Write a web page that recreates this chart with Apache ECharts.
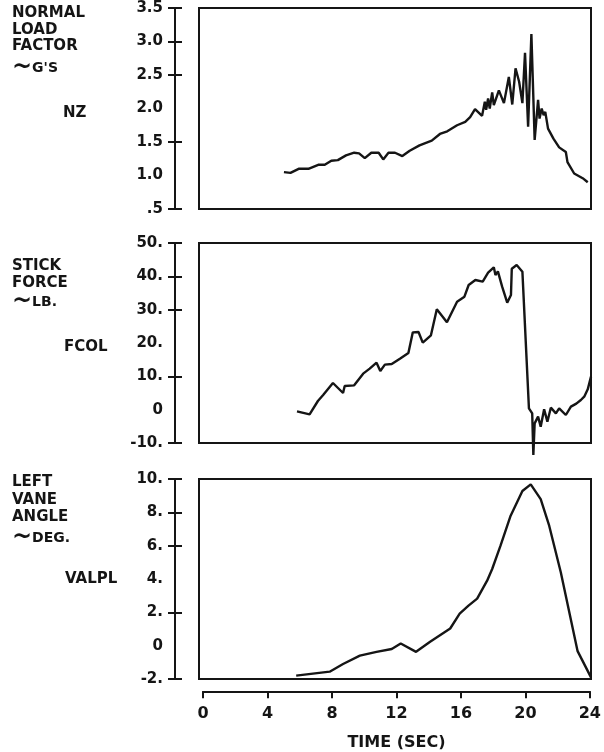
<!DOCTYPE html>
<html>
<head>
<meta charset="utf-8">
<script src="https://cdn.jsdelivr.net/npm/echarts@6/dist/echarts.min.js"></script>
<style>
  html, body { margin: 0; padding: 0; background: #fff; }
  #chart { width: 604px; height: 752px; }
</style>
</head>
<body>
<div id="chart"></div>
<script>
// normal load factor NZ (g's) vs time (sec)
const nzTime = [5.2, 5.6, 6.1, 6.7, 7.3, 7.7, 8.1, 8.5, 9.0, 9.5, 9.8, 10.15, 10.55, 11.0, 11.28, 11.6, 12.0, 12.45, 12.9, 13.5,
  14.25, 14.75, 15.2, 15.8, 16.3, 16.6, 16.9, 17.33, 17.5, 17.58, 17.7, 17.8, 17.95, 18.05, 18.36, 18.67, 18.97, 19.18, 19.38, 19.6,
  19.8, 19.96, 20.15, 20.35, 20.55, 20.76, 20.85, 20.98, 21.1, 21.2, 21.37, 21.7, 22.05, 22.46, 22.56, 22.97, 23.49, 23.8];
const nzValue = [1.05, 1.04, 1.1, 1.1, 1.16, 1.16, 1.22, 1.23, 1.3, 1.34, 1.33, 1.26, 1.34, 1.34, 1.24, 1.34, 1.34, 1.29, 1.37, 1.45,
  1.52, 1.62, 1.66, 1.75, 1.8, 1.87, 1.99, 1.89, 2.1, 1.98, 2.15, 2.0, 2.24, 2.05, 2.27, 2.08, 2.47, 2.06, 2.6, 2.4,
  2.08, 2.83, 1.73, 3.11, 1.53, 2.13, 1.85, 2.0, 1.9, 1.95, 1.7, 1.55, 1.42, 1.35, 1.2, 1.03, 0.96, 0.9];

// stick force FCOL (lb)
const fcolTime = [6.0, 6.77, 7.28, 7.6, 8.2, 8.82, 8.92, 9.5, 10.05, 10.45, 10.87, 11.1, 11.38, 11.8, 12.3, 12.82, 13.09, 13.44, 13.7, 14.2,
  14.56, 15.18, 15.8, 16.25, 16.51, 16.92, 17.37, 17.7, 18.05, 18.15, 18.3, 18.56, 18.87, 19.1, 19.15, 19.45, 19.8, 20.2, 20.4, 20.47,
  20.55, 20.76, 20.92, 21.13, 21.33, 21.54, 21.85, 22.05, 22.46, 22.77, 23.1, 23.38, 23.6, 23.8, 24.0];
const fcolValue = [-0.5, -1.4, 2.6, 4.4, 8.0, 5.0, 7.1, 7.3, 10.8, 12.3, 14.1, 11.6, 13.5, 13.7, 15.3, 17.0, 23.2, 23.3, 20.1, 22.3,
  30.1, 26.2, 32.4, 33.9, 37.4, 38.9, 38.4, 41.1, 42.7, 40.4, 41.5, 36.9, 32.1, 34.4, 42.3, 43.4, 41.4, 0.4, -1.1, -13.6,
  -4.1, -2.1, -5.1, 0.1, -3.6, 0.6, -1.1, 0.4, -1.6, 0.9, 1.8, 2.9, 4.0, 6.1, 9.9];

// left vane angle VALPL (deg)
const vaneTime = [5.95, 8.0, 8.82, 9.85, 10.87, 11.8, 12.35, 13.29, 14.15, 15.38, 15.96, 16.5, 17.03, 17.64, 17.95, 18.46, 19.08, 19.8, 20.31, 20.92, 21.44, 22.15, 23.18, 24.0];
const vaneValue = [-1.8, -1.56, -1.1, -0.6, -0.37, -0.2, 0.13, -0.37, 0.23, 1.03, 1.92, 2.4, 2.82, 3.9, 4.6, 6.0, 7.8, 9.28, 9.68, 8.79, 7.2, 4.41, -0.33, -1.9];

// axis tick values (some marks are missing on the original)
const nzTicks = [0.5, 1.5, 2.5, 3.0, 3.5];
const fcolTicks = [-10, 10, 30, 40, 50];
const vaneTicks = [-2, 2, 6, 8, 10];
const timeTicks = [0, 4, 8, 12, 16, 20, 24];

const FONT = '"DejaVu Sans", sans-serif';
const INK = '#151515';

function pairs(t, v) {
  return t.map((x, i) => [x, v[i]]);
}

// two axes on the same spot: one with outward ticks + labels, one with inward ticks,
// so the ticks cross the axis line like on the original
function yAxes(gi, min, max, step, ticks, fmt) {
  const base = {
    type: 'value', gridIndex: gi, min: min, max: max, interval: step,
    position: 'left', offset: 24, splitLine: { show: false }
  };
  return [
    Object.assign({}, base, {
      axisLine: { show: true, onZero: false, lineStyle: { color: INK, width: 2 } },
      axisTick: { show: true, length: 7, customValues: ticks, lineStyle: { color: INK, width: 2 } },
      axisLabel: { margin: 12, formatter: fmt, color: INK, fontFamily: FONT, fontWeight: 'bold', fontSize: 15 }
    }),
    Object.assign({}, base, {
      axisLine: { show: true, onZero: false, lineStyle: { color: INK, width: 2 } },
      axisTick: { show: true, inside: true, length: 7, customValues: ticks, lineStyle: { color: INK, width: 2 } },
      axisLabel: { show: false }
    })
  ];
}

function label(x, y, text, size) {
  return {
    type: 'text', x: x, y: y,
    style: {
      text: text, fill: INK, fontFamily: FONT, fontWeight: 'bold', fontSize: size || 15,
      verticalAlign: 'middle',
      rich: { t: { fontSize: 24, fontWeight: 'bold', fontFamily: FONT, fill: INK } }
    }
  };
}

const chart = echarts.init(document.getElementById('chart'));

const gridStyle = { show: true, borderColor: INK, borderWidth: 2, backgroundColor: 'transparent' };

chart.setOption({
  animation: false,
  backgroundColor: '#fff',
  grid: [
    Object.assign({ left: 199, width: 392, top: 8, height: 201 }, gridStyle),
    Object.assign({ left: 199, width: 392, top: 243, height: 200 }, gridStyle),
    Object.assign({ left: 199, width: 392, top: 479, height: 200 }, gridStyle),
    { left: 203, width: 389, top: 691, height: 1, show: false }
  ],
  xAxis: [
    { type: 'value', gridIndex: 0, min: 0, max: 24, show: false },
    { type: 'value', gridIndex: 1, min: 0, max: 24, show: false },
    { type: 'value', gridIndex: 2, min: 0, max: 24, show: false },
    {
      type: 'value', gridIndex: 3, min: 0, max: 24, interval: 4, position: 'bottom',
      axisLine: { show: true, onZero: false, lineStyle: { color: INK, width: 2 } },
      axisTick: { show: true, length: 7, customValues: timeTicks, lineStyle: { color: INK, width: 2 } },
      axisLabel: { margin: 15, color: INK, fontFamily: FONT, fontWeight: 'bold', fontSize: 16 },
      splitLine: { show: false },
      name: 'TIME (SEC)', nameLocation: 'middle', nameGap: 44,
      nameTextStyle: { color: INK, fontFamily: FONT, fontWeight: 'bold', fontSize: 16 }
    }
  ],
  yAxis: [].concat(
    yAxes(0, 0.5, 3.5, 0.5, nzTicks, v => v === 0.5 ? '.5' : v.toFixed(1)),
    yAxes(1, -10, 50, 10, fcolTicks, v => v === 0 ? '0' : v + '.'),
    yAxes(2, -2, 10, 2, vaneTicks, v => v === 0 ? '0' : v + '.'),
    [{ type: 'value', gridIndex: 3, min: 0, max: 1, show: false }]
  ),
  graphic: [
    label(12, 13, 'NORMAL'),
    label(12, 30, 'LOAD'),
    label(12, 46, 'FACTOR'),
    label(12, 68, "{t|~}G'S", 14),
    label(63, 113, 'NZ'),
    label(12, 266, 'STICK'),
    label(12, 283, 'FORCE'),
    label(12, 302, '{t|~}LB.', 14),
    label(64, 347, 'FCOL'),
    label(12, 482, 'LEFT'),
    label(12, 500, 'VANE'),
    label(12, 517, 'ANGLE'),
    label(12, 538, '{t|~}DEG.', 14),
    label(65, 579, 'VALPL')
  ],
  series: [
    { type: 'line', xAxisIndex: 0, yAxisIndex: 0, data: pairs(nzTime, nzValue) },
    { type: 'line', xAxisIndex: 1, yAxisIndex: 2, data: pairs(fcolTime, fcolValue) },
    { type: 'line', xAxisIndex: 2, yAxisIndex: 4, data: pairs(vaneTime, vaneValue) }
  ].map(s => Object.assign(s, {
    showSymbol: false, clip: false, silent: true,
    lineStyle: { color: INK, width: 2.4 }
  }))
});
</script>
</body>
</html>
